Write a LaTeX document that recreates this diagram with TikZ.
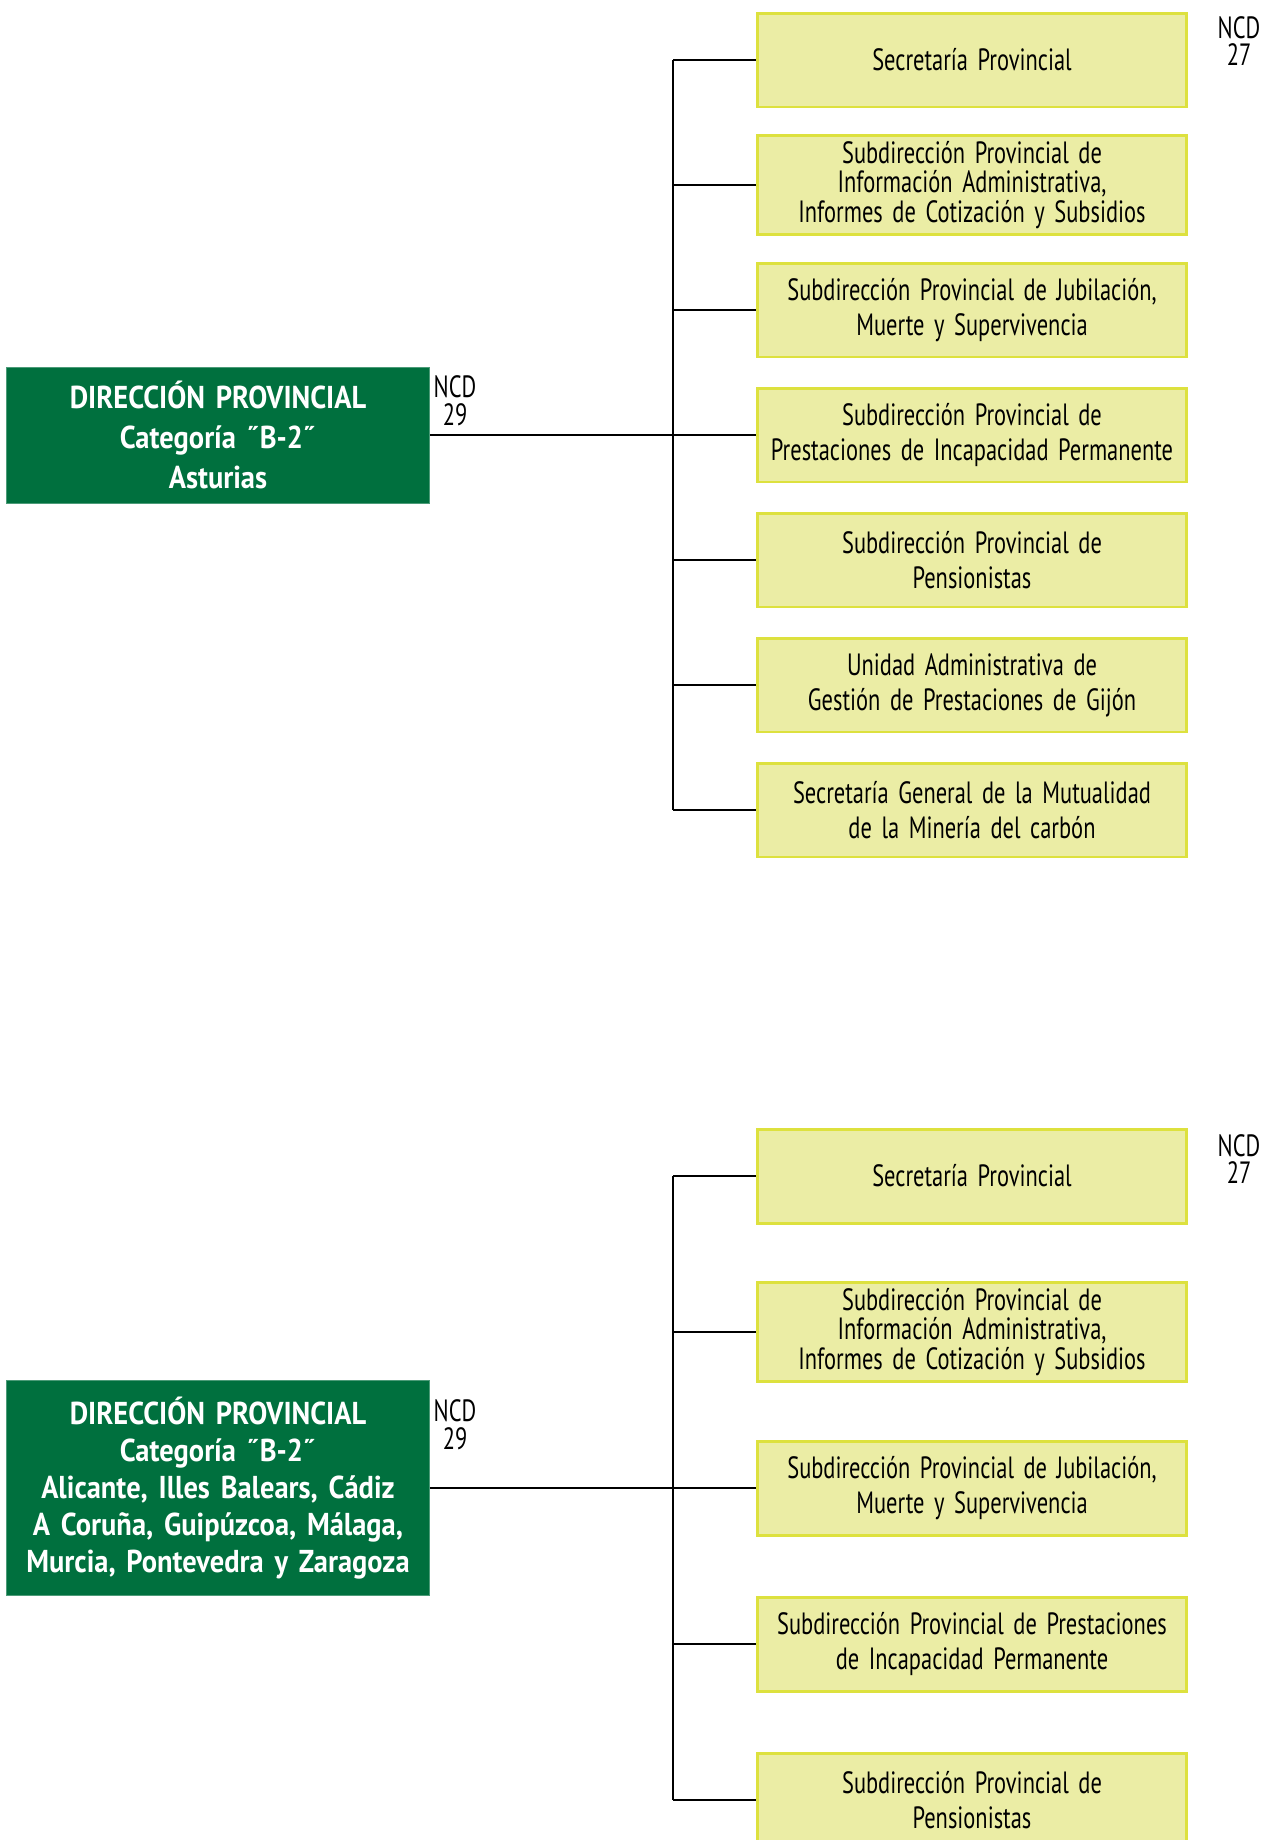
\documentclass[tikz,border=0pt]{standalone}
\usepackage{fontspec}
\setmainfont{PT Sans}
\newfontfamily\unitfont[FakeStretch=0.73,WordSpace=1.6]{PT Sans}
\newfontfamily\dirfont[FakeStretch=0.9,WordSpace=1.5]{PT Sans}
\definecolor{dirgreen}{RGB}{0,112,62}
\definecolor{unitfill}{RGB}{235,237,165}
\definecolor{unitline}{RGB}{221,225,62}

\begin{document}
\begin{tikzpicture}[x=0.02cm,y=-0.02cm,line width=1.2pt,
  dir node/.style={fill=dirgreen,draw=dirgreen!70!white,line width=0.4pt,text=white,align=center,
    minimum width=8.46cm,font=\dirfont\bfseries\fontsize{18}{22.7}\selectfont},
  unit node/.style={fill=unitfill,draw=unitline,line width=1.7pt,align=center,minimum width=8.6cm,
    minimum height=1.88cm,font=\unitfont\fontsize{17.5}{19.8}\selectfont},
  ncd node/.style={align=center,inner sep=0pt,font=\unitfont\fontsize{17.5}{15.8}\selectfont}]

  \clip (0,0) rectangle (1270,1840);

  \node[dir node,minimum height=2.72cm] (dp1) at (218,435) {DIRECCIÓN PROVINCIAL\\Categoría ˝B-2˝\\Asturias};
  \node[ncd node] (ncd1) at (455,401) {NCD\\29};
  \node[ncd node] (ncd2) at (1239,41) {NCD\\27};
  \coordinate (tr) at (673,0);

  \node[unit node] (s11) at (972,60) {Secretaría Provincial};
  \node[unit node,font=\unitfont\fontsize{17.5}{17}\selectfont] (s12) at (972,185) {Subdirección Provincial de\\Información Administrativa,\\Informes de Cotización y Subsidios};
  \node[unit node] (s13) at (972,310) {Subdirección Provincial de Jubilación,\\Muerte y Supervivencia};
  \node[unit node] (s14) at (972,435) {Subdirección Provincial de\\Prestaciones de Incapacidad Permanente};
  \node[unit node] (s15) at (972,560) {Subdirección Provincial de\\Pensionistas};
  \node[unit node] (s16) at (972,685) {Unidad Administrativa de\\Gestión de Prestaciones de Gijón};
  \node[unit node] (s17) at (972,810) {Secretaría General de la Mutualidad\\de la Minería del carbón};

  \node[dir node,minimum height=4.3cm,font=\dirfont\bfseries\fontsize{18}{21}\selectfont] (dp2) at (218,1488) {DIRECCIÓN PROVINCIAL\\Categoría ˝B-2˝\\Alicante, Illes Balears, Cádiz\\A Coruña, Guipúzcoa, Málaga,\\Murcia, Pontevedra y Zaragoza};
  \node[ncd node] (ncd3) at (455,1425) {NCD\\29};
  \node[ncd node] (ncd4) at (1239,1159) {NCD\\27};

  \node[unit node] (s21) at (972,1176) {Secretaría Provincial};
  \node[unit node,font=\unitfont\fontsize{17.5}{17}\selectfont] (s22) at (972,1332) {Subdirección Provincial de\\Información Administrativa,\\Informes de Cotización y Subsidios};
  \node[unit node] (s23) at (972,1488) {Subdirección Provincial de Jubilación,\\Muerte y Supervivencia};
  \node[unit node] (s24) at (972,1644) {Subdirección Provincial de Prestaciones\\de Incapacidad Permanente};
  \node[unit node] (s25) at (972,1800) {Subdirección Provincial de\\Pensionistas};

  \path
    (dp1) edge (s14)
    (s11.west -| tr) edge (s17.west -| tr)
    (s11.west -| tr) edge (s11.west)
    (s12.west -| tr) edge (s12.west)
    (s13.west -| tr) edge (s13.west)
    (s15.west -| tr) edge (s15.west)
    (s16.west -| tr) edge (s16.west)
    (s17.west -| tr) edge (s17.west)
    (dp2) edge (s23)
    (s21.west -| tr) edge (s25.west -| tr)
    (s21.west -| tr) edge (s21.west)
    (s22.west -| tr) edge (s22.west)
    (s24.west -| tr) edge (s24.west)
    (s25.west -| tr) edge (s25.west)
    ;
\end{tikzpicture}
\end{document}
